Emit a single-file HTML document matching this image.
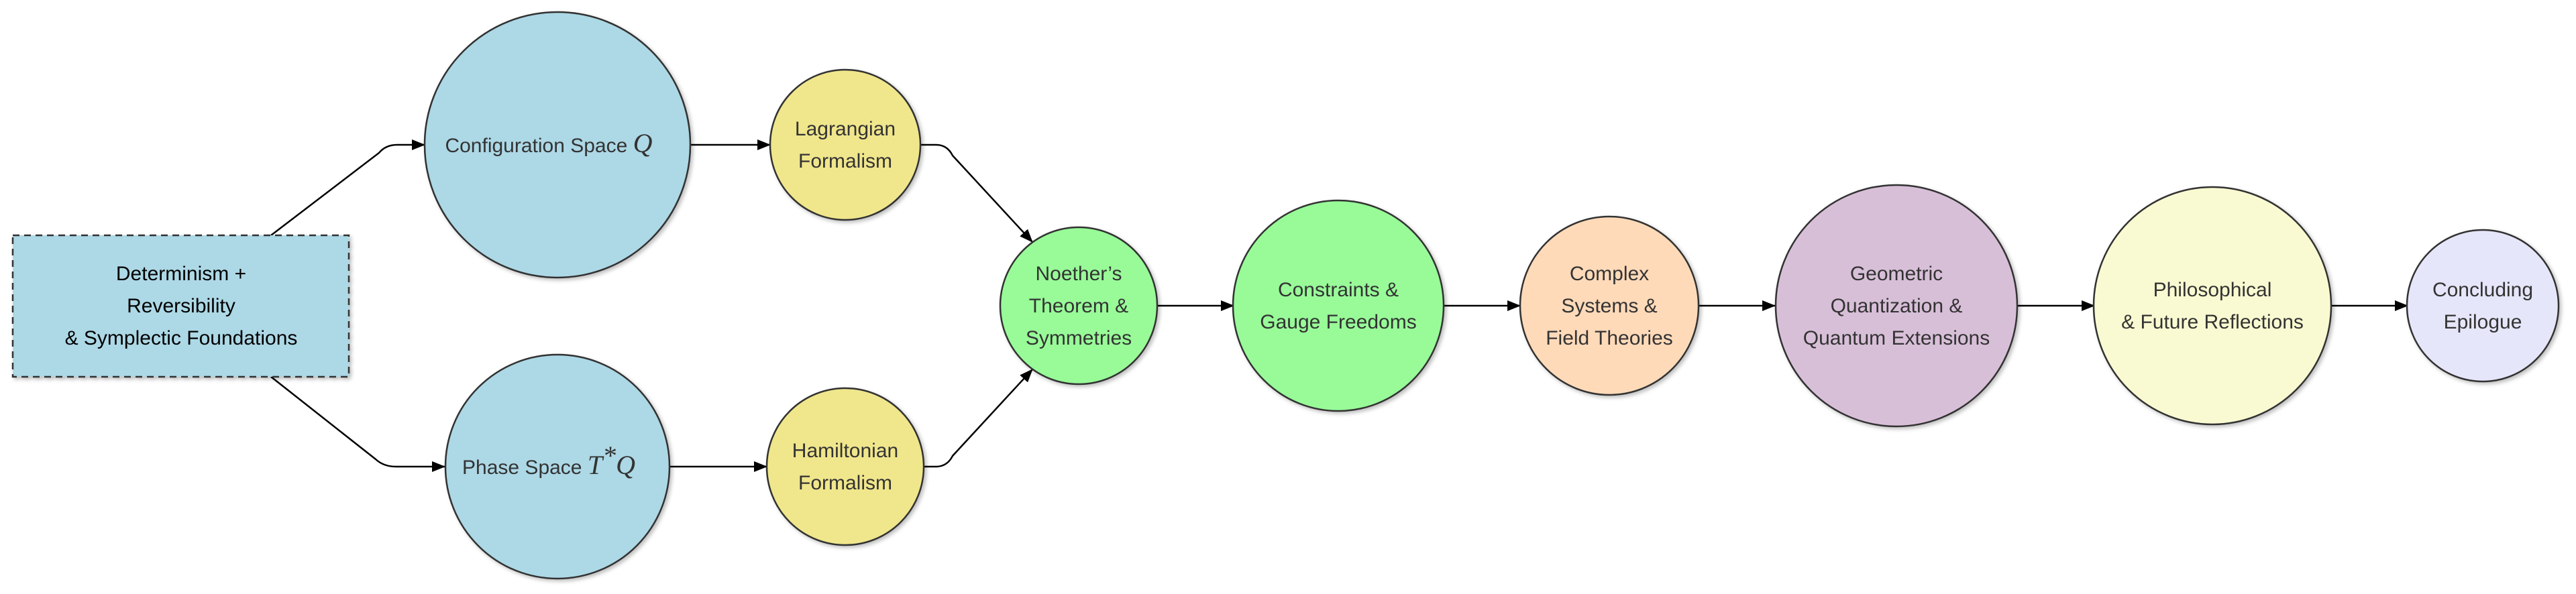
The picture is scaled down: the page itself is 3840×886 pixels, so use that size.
<!DOCTYPE html>
<html><head><meta charset="utf-8"><style>
html,body{margin:0;padding:0;background:#fff;}
svg{display:block;}
text{font-family:"Liberation Sans",Arial,sans-serif;font-size:30px;fill:#333;text-anchor:middle;}
.m{font-family:"Liberation Serif",serif;font-style:italic;font-size:40px;}
</style></head><body>
<svg width="3840" height="886" viewBox="0 0 3840 886" xmlns="http://www.w3.org/2000/svg">
<defs>
<marker id="a" markerWidth="20" markerHeight="16" refX="19" refY="8" orient="auto" markerUnits="userSpaceOnUse">
<path d="M0,0 L20,8 L0,16 Z" fill="#000"/>
</marker>
<filter id="s" x="-10%" y="-10%" width="125%" height="125%">
<feDropShadow dx="3" dy="3" stdDeviation="3" flood-color="#000" flood-opacity="0.25"/>
</filter>
</defs>
<g fill="none" stroke="#000" stroke-width="2.5">
<path d="M404,351 L565,228 Q575,216 592,216 L633,216" marker-end="url(#a)"/>
<path d="M404,562 L560,685 Q572,696 590,696 L663,696" marker-end="url(#a)"/>
<path d="M1029,216 L1148,216" marker-end="url(#a)"/>
<path d="M998,696 L1143,696" marker-end="url(#a)"/>
<path d="M1372,216 L1395,216 Q1412,216 1420,232 L1539,361" marker-end="url(#a)"/>
<path d="M1378,696 L1395,696 Q1412,696 1420,680 L1539,551" marker-end="url(#a)"/>
<path d="M1725,456 L1839,456" marker-end="url(#a)"/>
<path d="M2152,456 L2266,456" marker-end="url(#a)"/>
<path d="M2532,456 L2646,456" marker-end="url(#a)"/>
<path d="M3007,456 L3122,456" marker-end="url(#a)"/>
<path d="M3475,456 L3589,456" marker-end="url(#a)"/>
</g>
<g stroke="#333" stroke-width="2.5" filter="url(#s)">
<rect x="19" y="351" width="501" height="211" fill="#add8e6" stroke-dasharray="10,7"/>
<circle cx="831" cy="216" r="198" fill="#add8e6"/>
<circle cx="831" cy="696" r="167" fill="#add8e6"/>
<circle cx="1260" cy="216" r="112" fill="#f0e68c"/>
<circle cx="1260" cy="696" r="117" fill="#f0e68c"/>
<circle cx="1608" cy="456" r="117" fill="#98fb98"/>
<circle cx="1995" cy="456" r="157" fill="#98fb98"/>
<circle cx="2399" cy="456" r="133" fill="#ffdab9"/>
<circle cx="2827" cy="456" r="180" fill="#d8bfd8"/>
<circle cx="3298" cy="456" r="177" fill="#fafad2"/>
<circle cx="3701" cy="456" r="113" fill="#e6e6fa"/>
</g>
<g>
<text x="270" y="418" style="fill:#000">Determinism +</text>
<text x="270" y="466" style="fill:#000">Reversibility</text>
<text x="270" y="514" style="fill:#000">&amp; Symplectic Foundations</text>
<text x="818" y="227">Configuration Space <tspan class="m">Q</tspan></text>
<text x="818" y="707">Phase Space <tspan class="m">T</tspan><tspan class="m" font-size="20" dy="-14">*</tspan><tspan class="m" dy="14">Q</tspan></text>
<text x="1260" y="202">Lagrangian</text>
<text x="1260" y="250">Formalism</text>
<text x="1260" y="682">Hamiltonian</text>
<text x="1260" y="730">Formalism</text>
<text x="1608" y="418">Noether’s</text>
<text x="1608" y="466">Theorem &amp;</text>
<text x="1608" y="514">Symmetries</text>
<text x="1995" y="442">Constraints &amp;</text>
<text x="1995" y="490">Gauge Freedoms</text>
<text x="2399" y="418">Complex</text>
<text x="2399" y="466">Systems &amp;</text>
<text x="2399" y="514">Field Theories</text>
<text x="2827" y="418">Geometric</text>
<text x="2827" y="466">Quantization &amp;</text>
<text x="2827" y="514">Quantum Extensions</text>
<text x="3298" y="442">Philosophical</text>
<text x="3298" y="490">&amp; Future Reflections</text>
<text x="3701" y="442">Concluding</text>
<text x="3701" y="490">Epilogue</text>
</g>
</svg>
</body></html>
